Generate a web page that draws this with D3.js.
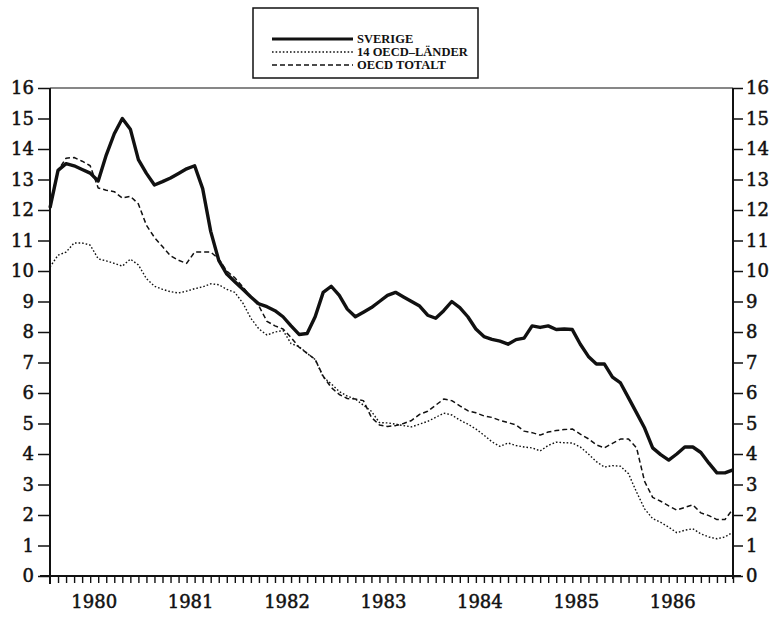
<!DOCTYPE html>
<html>
<script src="https://d3js.org/d3.v7.min.js"></script>
<style>
  body { margin: 0; background: #fff; }
  text { font-family: "DejaVu Serif", "Liberation Serif", serif; fill: #111; }
</style>
<body>
<div id="chart"></div>

<script>
    // monthly values, Jan 1980 .. Feb 1987
    var sverige = [12.07, 13.3, 13.52, 13.45, 13.33, 13.21, 12.95, 13.8, 14.5, 15.0,
        14.65, 13.65, 13.2, 12.82, 12.93, 13.05, 13.2, 13.35, 13.45, 12.7,
        11.3, 10.35, 9.9, 9.65, 9.4, 9.15, 8.92, 8.83, 8.7, 8.5,
        8.2, 7.92, 7.95, 8.5, 9.3, 9.5, 9.2, 8.75, 8.5, 8.65,
        8.8, 9.0, 9.2, 9.3, 9.15, 9.0, 8.85, 8.55, 8.45, 8.7,
        9.0, 8.8, 8.5, 8.1, 7.85, 7.76, 7.7, 7.6, 7.75, 7.8,
        8.2, 8.15, 8.2, 8.08, 8.1, 8.08, 7.6, 7.2, 6.95, 6.95,
        6.52, 6.33, 5.84, 5.35, 4.85, 4.2, 3.98, 3.8, 4.0, 4.23,
        4.23, 4.05, 3.7, 3.38, 3.38, 3.48];

    var oecd14 = [10.13, 10.52, 10.62, 10.92, 10.92, 10.85, 10.4, 10.33, 10.25, 10.16,
        10.39, 10.2, 9.75, 9.5, 9.4, 9.32, 9.28, 9.34, 9.42, 9.48,
        9.58, 9.55, 9.4, 9.3, 8.95, 8.45, 8.1, 7.9, 8.0, 8.05,
        7.62, 7.52, 7.3, 7.1, 6.52, 6.3, 6.05, 5.9, 5.8, 5.6,
        5.4, 5.03, 5.02, 4.98, 4.93, 4.89, 4.98, 5.07, 5.2, 5.34,
        5.28, 5.11, 4.98, 4.82, 4.62, 4.4, 4.25, 4.36, 4.28, 4.23,
        4.2, 4.1, 4.28, 4.39, 4.37, 4.36, 4.23, 4.0, 3.75, 3.57,
        3.62, 3.6, 3.35, 2.75, 2.2, 1.88, 1.76, 1.6, 1.42, 1.5,
        1.55, 1.38, 1.28, 1.22, 1.28, 1.44];

    var oecdTotal = [12.2, 13.3, 13.7, 13.72, 13.6, 13.45, 12.72, 12.65, 12.6, 12.39,
        12.45, 12.2, 11.5, 11.1, 10.8, 10.5, 10.35, 10.25, 10.62, 10.62,
        10.62, 10.4, 10.0, 9.78, 9.48, 9.15, 8.85, 8.35, 8.2, 8.1,
        7.82, 7.5, 7.3, 7.1, 6.55, 6.18, 5.95, 5.82, 5.8, 5.75,
        5.2, 4.95, 4.9, 4.93, 5.0, 5.1, 5.3, 5.4, 5.6, 5.8,
        5.75, 5.58, 5.42, 5.35, 5.25, 5.2, 5.1, 5.03, 4.95, 4.75,
        4.7, 4.62, 4.72, 4.77, 4.8, 4.82, 4.65, 4.5, 4.3, 4.2,
        4.35, 4.49, 4.49, 4.2, 3.1, 2.58, 2.45, 2.3, 2.16, 2.25,
        2.33, 2.07, 1.98, 1.85, 1.85, 2.2];

    var years = ["1980", "1981", "1982", "1983", "1984", "1985", "1986"];
    var yTicks = d3.range(0, 17);
    var legendNames = ["SVERIGE", "14 OECD\u2013LÄNDER", "OECD TOTALT"];

    var width = 770, height = 617;
    var mLeft = 50, mRight = 733, mTop = 88, mBottom = 576;

    var svg = d3.select("#chart")
        .append("svg")
        .attr("width", width)
        .attr("height", height);

    var x = d3.scaleLinear().domain([0, 85]).range([mLeft, mRight]);
    var y = d3.scaleLinear().domain([0, 16]).range([mBottom, mTop]);

    // frame line at the top
    svg.append("line")
        .attr("x1", mLeft).attr("x2", mRight)
        .attr("y1", mTop).attr("y2", mTop)
        .attr("stroke", "#111").attr("stroke-width", 1.2);

    var yLeft = d3.axisLeft(y).tickValues(yTicks).tickSize(12).tickPadding(4).tickFormat(d3.format("d"));
    var yRight = d3.axisRight(y).tickValues(yTicks).tickSize(10).tickPadding(3).tickFormat(d3.format("d"));

    var gl = svg.append("g")
        .attr("transform", "translate(" + mLeft + ",0)")
        .call(yLeft);
    var gr = svg.append("g")
        .attr("transform", "translate(" + mRight + ",0)")
        .call(yRight);

    [gl, gr].forEach(function (g) {
        g.select(".domain").attr("stroke", "#111").attr("stroke-width", 2);
        g.selectAll(".tick line").attr("stroke", "#111").attr("stroke-width", 1.5);
        g.selectAll(".tick text")
            .style("font-family", "DejaVu Serif")
            .style("font-size", "18px")
            .attr("fill", "#111")
            .attr("stroke", "#111")
            .attr("stroke-width", 0.5);
    });
    gl.select(".domain").attr("d", "M0," + (mBottom + 8) + "V" + mTop);
    gr.select(".domain").attr("d", "M0," + (mBottom + 3) + "V" + mTop);

    // month ticks along the bottom
    var gx = svg.append("g")
        .attr("transform", "translate(0," + mBottom + ")")
        .call(d3.axisBottom(x).tickValues(d3.range(1, 86)).tickSize(7).tickFormat(""));
    gx.select(".domain").attr("stroke", "#111").attr("stroke-width", 2)
        .attr("d", "M" + (mLeft - 10) + ",0H" + (mRight + 8));
    gx.selectAll(".tick line").attr("stroke", "#111").attr("stroke-width", 1.4);

    svg.append("g")
        .selectAll("text")
        .data(years)
        .join("text")
        .attr("x", function (d, i) { return x(i * 12 + 5.5); })
        .attr("y", 608)
        .attr("text-anchor", "middle")
        .attr("stroke", "#111")
        .attr("stroke-width", 0.5)
        .style("font-size", "18px")
        .text(function (d) { return d; });

    // series
    var line = d3.line()
        .x(function (d, i) { return x(i); })
        .y(function (d) { return y(d); });

    var styles = [
        { data: sverige, w: 3.4, dash: null },
        { data: oecd14, w: 1.4, dash: "1.6,2" },
        { data: oecdTotal, w: 1.5, dash: "5,3" }
    ];

    styles.slice().reverse().forEach(function (s) {
        svg.append("path")
            .datum(s.data)
            .attr("fill", "none")
            .attr("stroke", "#111")
            .attr("stroke-width", s.w)
            .attr("stroke-linejoin", "round")
            .attr("stroke-dasharray", s.dash)
            .attr("d", line);
    });

    // legend box
    var lg = svg.append("g");
    lg.append("rect")
        .attr("x", 253).attr("y", 8)
        .attr("width", 225).attr("height", 70)
        .attr("fill", "#fff")
        .attr("stroke", "#111").attr("stroke-width", 1.5);

    styles.forEach(function (s, i) {
        var ly = 39 + i * 13;
        lg.append("line")
            .attr("x1", 272).attr("x2", 353)
            .attr("y1", ly).attr("y2", ly)
            .attr("stroke", "#111")
            .attr("stroke-width", s.w === 3.4 ? 3 : s.w)
            .attr("stroke-dasharray", s.dash);
        lg.append("text")
            .attr("x", 357).attr("y", ly + 4)
            .style("font-family", "Liberation Serif")
            .style("font-weight", "bold")
            .style("font-size", "12.5px")
            .text(legendNames[i]);
    });
</script>

</body>
</html>
